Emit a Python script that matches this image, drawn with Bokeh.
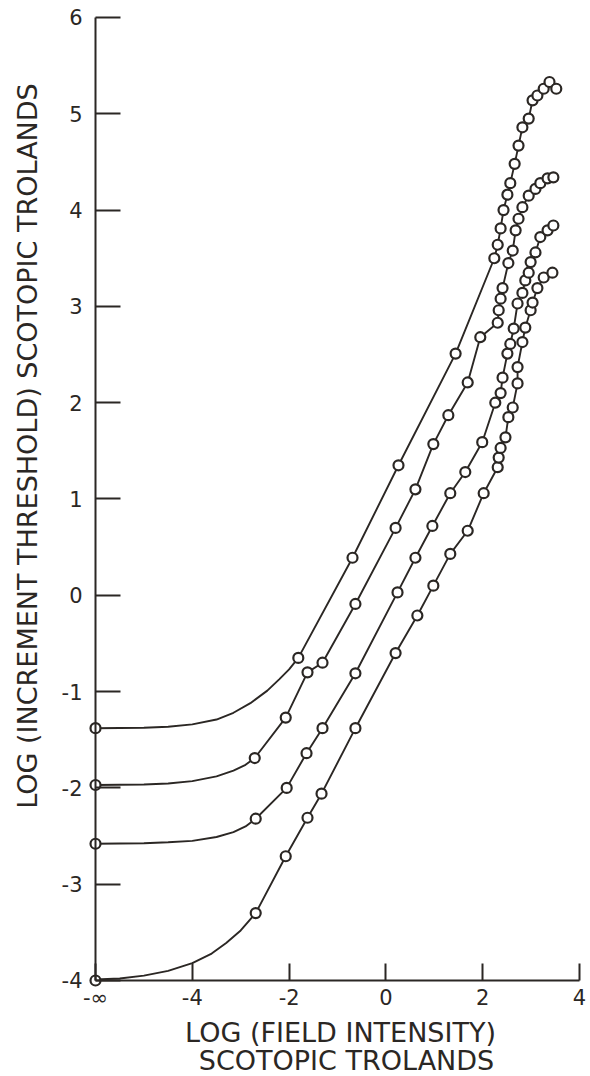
import math
from bokeh.plotting import figure
from bokeh.models import FixedTicker, Label
from bokeh.embed import file_html
from bokeh.resources import INLINE

# ---- data (x = log field intensity, -6 stands for -inf) ----
a_x = [-6, -1.81, -0.69, 0.26, 1.44, 2.24, 2.31, 2.37, 2.43, 2.51, 2.57, 2.66, 2.74, 2.82, 2.95, 3.03, 3.13, 3.26, 3.38, 3.52]
a_y = [-1.38, -0.65, 0.39, 1.35, 2.51, 3.50, 3.64, 3.81, 4.00, 4.16, 4.28, 4.48, 4.67, 4.86, 4.95, 5.14, 5.19, 5.26, 5.33, 5.26]

b_x = [-6, -2.71, -2.07, -1.62, -1.31, -0.63, 0.20, 0.61, 0.98, 1.29, 1.69, 1.95, 2.31, 2.33, 2.37, 2.41, 2.53, 2.62, 2.68, 2.74, 2.82, 2.95, 3.09, 3.19, 3.34, 3.46]
b_y = [-1.97, -1.69, -1.27, -0.80, -0.70, -0.09, 0.70, 1.10, 1.57, 1.87, 2.21, 2.68, 2.83, 2.96, 3.08, 3.19, 3.45, 3.58, 3.79, 3.91, 4.03, 4.15, 4.22, 4.28, 4.33, 4.34]

c_x = [-6, -2.69, -2.05, -1.64, -1.31, -0.63, 0.24, 0.61, 0.96, 1.33, 1.64, 1.99, 2.26, 2.37, 2.41, 2.51, 2.57, 2.64, 2.72, 2.82, 2.88, 2.95, 2.99, 3.09, 3.19, 3.34, 3.46]
c_y = [-2.58, -2.32, -2.00, -1.64, -1.38, -0.81, 0.03, 0.39, 0.72, 1.06, 1.28, 1.59, 2.00, 2.10, 2.26, 2.51, 2.61, 2.77, 3.03, 3.14, 3.27, 3.35, 3.46, 3.56, 3.72, 3.79, 3.84]

d_x = [-6, -2.69, -2.07, -1.62, -1.33, -0.63, 0.20, 0.65, 0.98, 1.33, 1.69, 2.02, 2.31, 2.33, 2.37, 2.47, 2.53, 2.62, 2.72, 2.72, 2.82, 2.88, 2.99, 3.03, 3.13, 3.26, 3.44]
d_y = [-4.00, -3.30, -2.71, -2.31, -2.06, -1.38, -0.60, -0.21, 0.10, 0.43, 0.67, 1.06, 1.33, 1.43, 1.53, 1.64, 1.85, 1.95, 2.20, 2.37, 2.63, 2.78, 2.96, 3.04, 3.19, 3.30, 3.35]

# hand-drawn template curve in the low-field part
a_fit_x = [-6, -5, -4.5, -4, -3.5, -3.15, -2.8, -2.45, -2.2, -2.0]
a_fit_y = [-1.38, -1.375, -1.365, -1.34, -1.29, -1.22, -1.12, -0.99, -0.87, -0.77]
b_fit_x = [-6, -5, -4.5, -4, -3.5, -3.15, -2.9]
b_fit_y = [-1.97, -1.965, -1.955, -1.93, -1.88, -1.82, -1.76]
c_fit_x = [-6, -5, -4.5, -4, -3.5, -3.15, -2.9]
c_fit_y = [-2.58, -2.575, -2.565, -2.55, -2.51, -2.46, -2.40]
d_fit_x = [-6, -5.5, -5, -4.5, -4, -3.6, -3.3, -3.0]
d_fit_y = [-3.99, -3.98, -3.95, -3.90, -3.82, -3.72, -3.61, -3.48]

x_ticks = [-6, -4, -2, 0, 2, 4]
x_tick_labels = ["-∞", "-4", "-2", "0", "2", "4"]
y_ticks = [-4, -3, -2, -1, 0, 1, 2, 3, 4, 5, 6]
y_tick_labels = ["-4", "-3", "-2", "-1", "0", "1", "2", "3", "4", "5", "6"]

x_title = "LOG (FIELD INTENSITY)"
x_title2 = "SCOTOPIC TROLANDS"
y_title = "LOG (INCREMENT THRESHOLD) SCOTOPIC TROLANDS"

INK = "#2b2724"
FONT = "DejaVu Sans"

# the frame covers the whole page; the axes sit at x = -inf (-6) and y = -4
p = figure(width=590, height=1076, x_range=(-7.963, 4.227), y_range=(-4.997, 6.1765),
           output_backend="svg", toolbar_location=None,
           min_border_left=0, min_border_right=0, min_border_top=0, min_border_bottom=0)
p.outline_line_color = None
p.xgrid.grid_line_color = None
p.ygrid.grid_line_color = None
p.background_fill_color = "white"
p.border_fill_color = "white"

for fx, fy, dx, dy in [(a_fit_x, a_fit_y, a_x, a_y), (b_fit_x, b_fit_y, b_x, b_y),
                       (c_fit_x, c_fit_y, c_x, c_y), (d_fit_x, d_fit_y, d_x, d_y)]:
    lx = fx + dx[1:]
    ly = fy + dy[1:]
    p.line(lx, ly, line_color=INK, line_width=1.9)
    p.scatter(dx, dy, marker="circle", size=10, line_color=INK, line_width=2.2, fill_color="white")

xa = p.xaxis[0]
xa.fixed_location = -4
xa.bounds = (-6, 4)
xa.ticker = FixedTicker(ticks=x_ticks)
xa.major_label_overrides = {t: l for t, l in zip(x_ticks, x_tick_labels)}
xa.major_tick_in = 17
xa.major_tick_out = 0
xa.minor_tick_line_color = None
xa.axis_line_width = 2
xa.major_tick_line_width = 2
xa.axis_line_color = INK
xa.major_tick_line_color = INK
xa.major_label_text_font = FONT
xa.major_label_text_font_size = "21px"
xa.major_label_text_color = INK
xa.major_label_standoff = 6

ya = p.yaxis[0]
ya.fixed_location = -6
ya.bounds = (-4, 6)
ya.ticker = FixedTicker(ticks=y_ticks)
ya.major_label_overrides = {t: l for t, l in zip(y_ticks, y_tick_labels)}
ya.major_tick_in = 25
ya.major_tick_out = 0
ya.minor_tick_line_color = None
ya.axis_line_width = 2
ya.major_tick_line_width = 2
ya.axis_line_color = INK
ya.major_tick_line_color = INK
ya.major_label_text_font = FONT
ya.major_label_text_font_size = "21px"
ya.major_label_text_color = INK
ya.major_label_standoff = 13
ya.major_label_orientation = "horizontal"

lab_kw = dict(text_font=FONT, text_font_size="27px", text_color=INK,
              text_align="center", text_baseline="middle")
p.add_layout(Label(x=-0.938, y=-4.540, text=x_title, **lab_kw))
p.add_layout(Label(x=-0.814, y=-4.831, text=x_title2, **lab_kw))
p.add_layout(Label(x=-7.415, y=1.550, text=y_title, angle=math.pi / 2, **lab_kw))

open("out.html", "w").write(file_html(p, INLINE))
